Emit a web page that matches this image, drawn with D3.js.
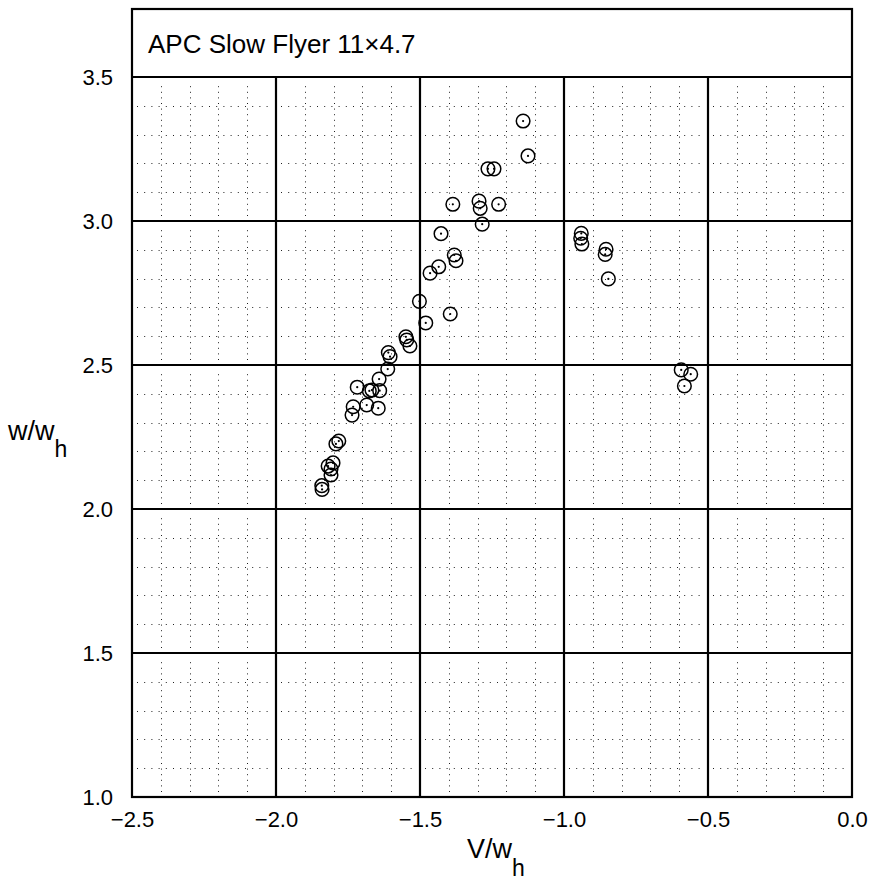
<!DOCTYPE html>
<html>
<head>
<meta charset="utf-8">
<script src="https://cdn.jsdelivr.net/npm/d3@7"></script>
<style>
body { margin: 0; background: #fff; }
text { font-family: "Liberation Sans", Arial, sans-serif; fill: #000; }
</style>
</head>
<body>
<script>
// V/w_h against w/w_h
var vw = [-1.142, -1.125, -1.264, -1.243, -1.386, -1.295, -1.291, -1.227, -1.284, -1.427,
	-1.381, -1.375, -1.435, -1.465, -1.502, -1.395, -1.480, -1.549, -1.546, -1.535,
	-1.610, -1.604, -1.612, -1.642, -1.718, -1.676, -1.667, -1.640, -1.685, -1.645,
	-1.732, -1.736, -1.782, -1.792, -1.819, -1.802, -1.809, -1.809, -1.841, -1.840,
	-0.940, -0.942, -0.938, -0.854, -0.857, -0.846, -0.593, -0.560, -0.582];
var ww = [3.347, 3.226, 3.181, 3.181, 3.058, 3.069, 3.044, 3.058, 2.989, 2.956,
	2.882, 2.862, 2.841, 2.819, 2.721, 2.677, 2.646, 2.598, 2.587, 2.566,
	2.543, 2.529, 2.486, 2.451, 2.423, 2.410, 2.413, 2.411, 2.361, 2.350,
	2.355, 2.326, 2.236, 2.226, 2.149, 2.160, 2.139, 2.118, 2.081, 2.068,
	2.957, 2.940, 2.920, 2.902, 2.884, 2.799, 2.483, 2.468, 2.427];

var xTicks = [-2.5, -2.0, -1.5, -1.0, -0.5, 0.0];
var yTicks = [1.0, 1.5, 2.0, 2.5, 3.0, 3.5];
var title = "APC Slow Flyer 11\u00d74.7";

var W = 878, H = 880;
var pLeft = 132, pRight = 852, pTop = 77, pBottom = 797, boxTop = 9;

var x = d3.scaleLinear().domain([-2.5, 0]).range([pLeft, pRight]);
var y = d3.scaleLinear().domain([1, 3.5]).range([pBottom, pTop]);

var svg = d3.select("body").append("svg")
	.attr("width", W)
	.attr("height", H);

// minor dotted grid, broken up between the major lines
var isMajor = function(v) { return Math.abs(v * 2 - Math.round(v * 2)) < 1e-6; };
var minorX = d3.range(-24, 0).map(function(k) { return k / 10; }).filter(function(v) { return !isMajor(v); });
var minorY = d3.range(11, 35).map(function(k) { return k / 10; }).filter(function(v) { return !isMajor(v); });
var gap = 5;
var minor = svg.append("g")
	.attr("stroke", "#222")
	.attr("stroke-width", 1);

for (var i = 0; i < xTicks.length - 1; i++) {
	minor.selectAll(null)
		.data(minorY)
		.enter()
		.append("line")
		.attr("x1", x(xTicks[i]) + gap)
		.attr("x2", x(xTicks[i + 1]) - gap)
		.attr("y1", function(d) { return Math.round(y(d)) + 0.5; })
		.attr("y2", function(d) { return Math.round(y(d)) + 0.5; })
		.attr("stroke-dasharray", "1,6.2");
}
for (var j = 0; j < yTicks.length - 1; j++) {
	minor.selectAll(null)
		.data(minorX)
		.enter()
		.append("line")
		.attr("y1", y(yTicks[j]) - gap)
		.attr("y2", y(yTicks[j + 1]) + gap)
		.attr("x1", function(d) { return Math.round(x(d)) + 0.5; })
		.attr("x2", function(d) { return Math.round(x(d)) + 0.5; })
		.attr("stroke-dasharray", "1,4.6");
}

// major grid
var major = svg.append("g")
	.attr("stroke", "#000")
	.attr("stroke-width", 2.2);
major.selectAll(null)
	.data(xTicks.slice(1, -1))
	.enter()
	.append("line")
	.attr("x1", function(d) { return x(d); })
	.attr("x2", function(d) { return x(d); })
	.attr("y1", pTop)
	.attr("y2", pBottom);
major.selectAll(null)
	.data(yTicks.slice(1, -1))
	.enter()
	.append("line")
	.attr("y1", function(d) { return y(d); })
	.attr("y2", function(d) { return y(d); })
	.attr("x1", pLeft)
	.attr("x2", pRight);

// frame and title box
svg.append("rect")
	.attr("x", pLeft)
	.attr("y", boxTop)
	.attr("width", pRight - pLeft)
	.attr("height", pBottom - boxTop)
	.attr("fill", "none")
	.attr("stroke", "#000")
	.attr("stroke-width", 2.2);
svg.append("line")
	.attr("x1", pLeft)
	.attr("x2", pRight)
	.attr("y1", pTop)
	.attr("y2", pTop)
	.attr("stroke", "#000")
	.attr("stroke-width", 2.2);

svg.append("text")
	.attr("x", pLeft + 16)
	.attr("y", 53)
	.attr("font-size", 26)
	.text(title);

// axes: labels only
var fmt = d3.format(".1f");
var xAxis = svg.append("g")
	.attr("transform", "translate(0," + pBottom + ")")
	.call(d3.axisBottom(x).tickValues(xTicks).tickFormat(fmt).tickSize(0).tickPadding(14));
var yAxis = svg.append("g")
	.attr("transform", "translate(" + pLeft + ",0)")
	.call(d3.axisLeft(y).tickValues(yTicks).tickFormat(fmt).tickSize(0).tickPadding(19));
[xAxis, yAxis].forEach(function(a) {
	a.select(".domain").remove();
	a.selectAll("text")
		.attr("font-size", 22)
		.attr("font-family", "Liberation Sans, Arial, sans-serif")
		.attr("fill", "#000");
});

// axis titles
var xl = svg.append("text")
	.attr("x", 496)
	.attr("y", 858)
	.attr("text-anchor", "middle")
	.attr("font-size", 27);
xl.append("tspan").text("V/w");
xl.append("tspan").attr("dy", 18).attr("font-size", 23).text("h");

var yl = svg.append("text")
	.attr("x", 8)
	.attr("y", 440)
	.attr("font-size", 27);
yl.append("tspan").text("w/w");
yl.append("tspan").attr("dy", 17).attr("font-size", 23).text("h");

// points
var pts = d3.range(vw.length).map(function(i) { return [vw[i], ww[i]]; });
var g = svg.append("g");
g.selectAll("circle.ring")
	.data(pts)
	.enter()
	.append("circle")
	.attr("class", "ring")
	.attr("cx", function(d) { return x(d[0]); })
	.attr("cy", function(d) { return y(d[1]); })
	.attr("r", 6.8)
	.attr("fill", "none")
	.attr("stroke", "#000")
	.attr("stroke-width", 1.5);
g.selectAll("circle.dot")
	.data(pts)
	.enter()
	.append("circle")
	.attr("class", "dot")
	.attr("cx", function(d) { return x(d[0]); })
	.attr("cy", function(d) { return y(d[1]); })
	.attr("r", 1.1)
	.attr("fill", "#000");
</script>
</body>
</html>
